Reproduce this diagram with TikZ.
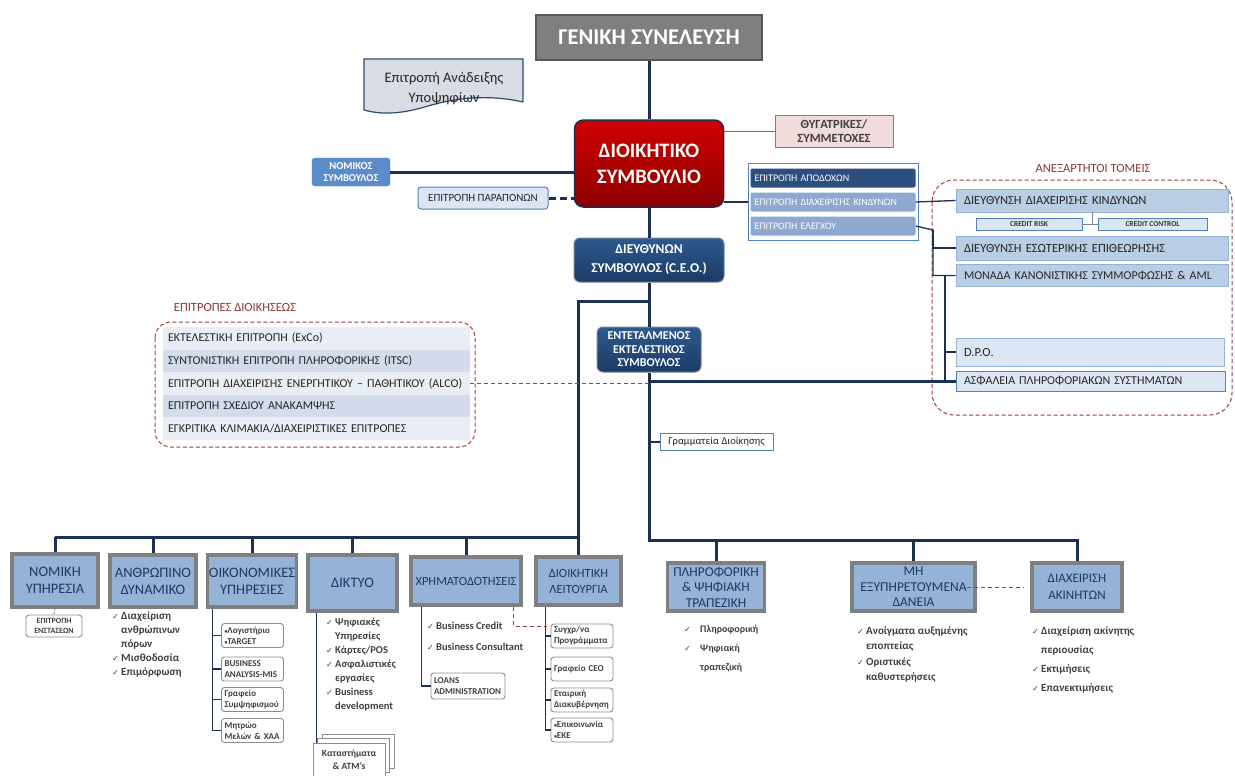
\documentclass[tikz,border=0pt]{standalone}
\usepackage{fontspec}
\setmainfont{Carlito}
\newfontfamily\symfont{DejaVu Sans}
\usetikzlibrary{positioning}

\definecolor{linenavy}{HTML}{1C3152}
\definecolor{gengray}{HTML}{7F7F7F}
\definecolor{genedge}{HTML}{5A5A5A}
\definecolor{docfill}{HTML}{D9DCE3}
\definecolor{docedge}{HTML}{2F4C73}
\definecolor{boardtop}{HTML}{D00000}
\definecolor{boardbot}{HTML}{8C0000}
\definecolor{boardedge}{HTML}{2A2A4A}
\definecolor{pinkfill}{HTML}{F2DCDB}
\definecolor{midblue}{HTML}{5B8BC9}
\definecolor{paleblue}{HTML}{DCE6F2}
\definecolor{steel}{HTML}{4F81BD}
\definecolor{ceotop}{HTML}{2E5A8E}
\definecolor{ceobot}{HTML}{1B3A66}
\definecolor{barnavy}{HTML}{2D4F7E}
\definecolor{barblue}{HTML}{8EA8D0}
\definecolor{indblue}{HTML}{B9CDE5}
\definecolor{indedge}{HTML}{95B3D7}
\definecolor{dashred}{HTML}{A04040}
\definecolor{labelred}{HTML}{8B3A2E}
\definecolor{rowlight}{HTML}{E9EEF6}
\definecolor{rowdark}{HTML}{D2DCEA}
\definecolor{unitblue}{HTML}{95B3D7}
\definecolor{unitedge}{HTML}{7F7F7F}
\definecolor{unittext}{HTML}{1F3864}
\definecolor{listgray}{HTML}{404040}
\definecolor{subedge}{HTML}{8C8C8C}

\newcommand{\chk}{{\symfont\fontsize{8}{8}\selectfont ✓}}
\newcommand{\ck}{\makebox[9pt][l]{\chk}}
\newcommand{\ckw}{\makebox[16pt][l]{\chk}}
\newcommand{\dotmark}{{\fontsize{6}{6}\selectfont •}}

\tikzset{
  navylink/.style={draw=linenavy, line width=3pt},
  twig/.style={draw=linenavy, line width=1.3pt},
  reddash/.style={draw=dashred, line width=1pt, dash pattern=on 4pt off 3pt},
  groupframe/.style={draw=dashred, dash pattern=on 4pt off 2.5pt, line width=1pt, rounded corners=22pt},
  unitbox/.style={draw=unitedge, line width=3.5pt, fill=unitblue, text=unittext, align=center, inner sep=0pt, font=\fontsize{14.5}{17}\selectfont},
  subbox/.style={draw=subedge, fill=white, rounded corners=3pt, line width=0.9pt, align=left, inner xsep=3pt, inner ysep=1pt, text width=56pt, minimum height=24pt, text=listgray, font=\bfseries\fontsize{9}{11}\selectfont},
  indbox/.style={draw=indedge, fill=indblue, line width=0.8pt, inner xsep=8pt, inner ysep=0pt, align=left, text=black!85, font=\fontsize{12.5}{14}\selectfont},
  combar/.style={fill=barblue, rounded corners=2pt, inner xsep=4pt, inner ysep=0pt, text=white, align=left, font=\fontsize{10}{12}\selectfont, minimum height=19pt, text width=157pt},
  comrow/.style={inner xsep=5pt, inner ysep=0pt, align=left, text=black!85, font=\fontsize{12}{13}\selectfont, text width=297pt, minimum height=22.6pt},
  listtext/.style={anchor=north west, inner sep=0pt, align=left, text=listgray, font=\bfseries\fontsize{11}{14}\selectfont},
  headbox/.style={rounded corners=6pt, draw=linenavy!60, line width=1pt, top color=ceotop, bottom color=ceobot, align=center, text=white}
}

\begin{document}
\begin{tikzpicture}[x=1pt,y=-1pt]
\useasboundingbox[fill=white] (0,0) rectangle (1235,776);

% top of the chart
\node[draw=genedge, fill=gengray, line width=1.5pt, minimum width=226pt, minimum height=45pt, text=white, font=\bfseries\fontsize{22.5}{26}\selectfont] (gen) at (649,37.5) {ΓΕΝΙΚΗ ΣΥΝΕΛΕΥΣΗ};
\draw[fill=docfill, draw=docedge, line width=1.2pt] (364,59) -- (523,59) -- (523,102) .. controls (488,94) and (455,98) .. (428,106) .. controls (402,114) and (382,115) .. (364,110) -- cycle;
\node[align=center, font=\fontsize{14.5}{20}\selectfont, text=black!85] (nomin) at (444,89) {Επιτροπή Ανάδειξης\\Υποψηφίων};

\node[top color=boardtop, bottom color=boardbot, draw=boardedge, line width=1.5pt, rounded corners=9pt, minimum width=149pt, minimum height=87pt, align=center, text=white, font=\bfseries\fontsize{20.5}{26}\selectfont] (board) at (649,163.5) {ΔΙΟΙΚΗΤΙΚΟ\\ΣΥΜΒΟΥΛΙΟ};
\node[draw=gengray, fill=pinkfill, line width=0.8pt, minimum width=118pt, minimum height=32pt, align=center, text=black!75, font=\bfseries\fontsize{12.5}{14}\selectfont] (subs) at (834,131) {ΘΥΓΑΤΡΙΚΕΣ/\\ΣΥΜΜΕΤΟΧΕΣ};
\node[fill=midblue, draw=steel, rounded corners=3pt, minimum width=78pt, minimum height=28pt, align=center, text=white, font=\bfseries\fontsize{10.5}{12}\selectfont] (advisor) at (351,172) {ΝΟΜΙΚΟΣ\\ΣΥΜΒΟΥΛΟΣ};
\node[fill=paleblue, draw=steel, line width=1pt, rounded corners=3pt, minimum width=130pt, minimum height=22pt, text=black!85, font=\fontsize{11}{12}\selectfont] (complaints) at (483,198) {ΕΠΙΤΡΟΠΗ ΠΑΡΑΠΟΝΩΝ};

% board committees
\node[draw=steel, fill=white, line width=1pt, minimum width=170pt, minimum height=77pt] (panel) at (833,201.5) {};
\node[combar, fill=barnavy] (remc) at (833,178) {ΕΠΙΤΡΟΠΗ ΑΠΟΔΟΧΩΝ};
\node[combar] (riskc) at (833,202) {ΕΠΙΤΡΟΠΗ ΔΙΑΧΕΙΡΙΣΗΣ ΚΙΝΔΥΝΩΝ};
\node[combar] (auditc) at (833,226) {ΕΠΙΤΡΟΠΗ ΕΛΕΓΧΟΥ};

% independent units
\draw[groupframe] (932,180) rectangle (1232,415);
\node[text=labelred, font=\fontsize{12.5}{14}\selectfont] (indlabel) at (1093,168) {ΑΝΕΞΑΡΤΗΤΟΙ ΤΟΜΕΙΣ};
\node[indbox, text width=256pt, minimum height=23pt] (riskdir) at (1092,200.5) {ΔΙΕΥΘΥΝΣΗ ΔΙΑΧΕΙΡΙΣΗΣ ΚΙΝΔΥΝΩΝ};
\node[draw=steel, fill=paleblue, line width=0.8pt, minimum width=106pt, minimum height=12pt, inner sep=0pt, text=black!80, font=\bfseries\fontsize{7.5}{8}\selectfont] (crisk) at (1029,224) {CREDIT RISK};
\node[draw=steel, fill=paleblue, line width=0.8pt, minimum width=109pt, minimum height=12pt, inner sep=0pt, text=black!80, font=\bfseries\fontsize{7.5}{8}\selectfont] (cctrl) at (1152.5,224) {CREDIT CONTROL};
\node[indbox, text width=256pt, minimum height=24pt] (intaudit) at (1092,248) {ΔΙΕΥΘΥΝΣΗ ΕΣΩΤΕΡΙΚΗΣ ΕΠΙΘΕΩΡΗΣΗΣ};
\node[indbox, text width=256pt, minimum height=22pt, font=\fontsize{12}{13}\selectfont] (compl) at (1092,275.5) {ΜΟΝΑΔΑ ΚΑΝΟΝΙΣΤΙΚΗΣ ΣΥΜΜΟΡΦΩΣΗΣ \& AML};
\node[indbox, fill=paleblue, text width=252pt, minimum height=28pt] (dpo) at (1090,352) {D.P.O.};
\node[indbox, fill=paleblue, draw=steel, text width=253pt, minimum height=20pt, font=\fontsize{12}{13}\selectfont] (infosec) at (1090.5,381) {ΑΣΦΑΛΕΙΑ ΠΛΗΡΟΦΟΡΙΑΚΩΝ ΣΥΣΤΗΜΑΤΩΝ};

% management committees
\node[text=labelred, font=\fontsize{12.5}{14}\selectfont] (mgmtlabel) at (235,307) {ΕΠΙΤΡΟΠΕΣ ΔΙΟΙΚΗΣΕΩΣ};
\draw[groupframe, rounded corners=16pt] (155,322) rectangle (475,447);
\node[comrow, fill=rowlight] (exco) at (316.5,338.3) {ΕΚΤΕΛΕΣΤΙΚΗ ΕΠΙΤΡΟΠΗ (ExCo)};
\node[comrow, fill=rowdark] (itsc) at (316.5,360.9) {ΣΥΝΤΟΝΙΣΤΙΚΗ ΕΠΙΤΡΟΠΗ ΠΛΗΡΟΦΟΡΙΚΗΣ (ITSC)};
\node[comrow, fill=rowlight] (alco) at (316.5,383.5) {ΕΠΙΤΡΟΠΗ ΔΙΑΧΕΙΡΙΣΗΣ ΕΝΕΡΓΗΤΙΚΟΥ – ΠΑΘΗΤΙΚΟΥ (ALCO)};
\node[comrow, fill=rowdark] (recov) at (316.5,406.1) {ΕΠΙΤΡΟΠΗ ΣΧΕΔΙΟΥ ΑΝΑΚΑΜΨΗΣ};
\node[comrow, fill=rowlight] (approv) at (316.5,428.7) {ΕΓΚΡΙΤΙΚΑ ΚΛΙΜΑΚΙΑ/ΔΙΑΧΕΙΡΙΣΤΙΚΕΣ ΕΠΙΤΡΟΠΕΣ};

% executives
\node[headbox, minimum width=150pt, minimum height=44pt, font=\bfseries\fontsize{13.5}{19}\selectfont] (ceo) at (649,260) {ΔΙΕΥΘΥΝΩΝ\\ΣΥΜΒΟΥΛΟΣ (C.E.O.)};
\node[headbox, minimum width=104pt, minimum height=45pt, font=\bfseries\fontsize{12}{13.5}\selectfont] (deputy) at (649,349.5) {ΕΝΤΕΤΑΛΜΕΝΟΣ\\ΕΚΤΕΛΕΣΤΙΚΟΣ\\ΣΥΜΒΟΥΛΟΣ};
\node[draw=steel, fill=white, line width=0.8pt, minimum width=113pt, minimum height=17pt, inner sep=0pt, text=black!85, font=\fontsize{10.5}{12}\selectfont] (secr) at (716.5,442) {Γραμματεία Διοίκησης};

% business units
\node[unitbox, minimum width=86pt, minimum height=53pt] (legal) at (55,580.5) {ΝΟΜΙΚΗ\\ΥΠΗΡΕΣΙΑ};
\node[unitbox, minimum width=86pt, minimum height=52pt] (hr) at (153,581) {ΑΝΘΡΩΠΙΝΟ\\ΔΥΝΑΜΙΚΟ};
\node[unitbox, minimum width=89pt, minimum height=52pt] (fin) at (252,581) {ΟΙΚΟΝΟΜΙΚΕΣ\\ΥΠΗΡΕΣΙΕΣ};
\node[unitbox, minimum width=89pt, minimum height=56pt] (network) at (352.5,583) {ΔΙΚΤΥΟ};
\node[unitbox, minimum width=110pt, minimum height=48pt, font=\fontsize{12.5}{15}\selectfont] (lending) at (466,581) {ΧΡΗΜΑΤΟΔΟΤΗΣΕΙΣ};
\node[unitbox, minimum width=85pt, minimum height=48pt, font=\fontsize{12.5}{16}\selectfont] (admin) at (578.5,581) {ΔΙΟΙΚΗΤΙΚΗ\\ΛΕΙΤΟΥΡΓΙΑ};
\node[unitbox, minimum width=97pt, minimum height=48pt, font=\fontsize{13.5}{15.5}\selectfont] (digital) at (716,587) {ΠΛΗΡΟΦΟΡΙΚΗ\\\& ΨΗΦΙΑΚΗ\\ΤΡΑΠΕΖΙΚΗ};
\node[unitbox, minimum width=123pt, minimum height=48pt, font=\fontsize{13.5}{15.5}\selectfont] (npl) at (913.5,587) {ΜΗ\\ΕΞΥΠΗΡΕΤΟΥΜΕΝΑ\\ΔΑΝΕΙΑ};
\node[unitbox, minimum width=90pt, minimum height=48pt, font=\fontsize{13}{17}\selectfont] (estate) at (1077,587) {ΔΙΑΧΕΙΡΙΣΗ\\ΑΚΙΝΗΤΩΝ};

% details under the units
\node[subbox, text width=50pt, minimum height=22pt, align=center, font=\bfseries\fontsize{8}{10}\selectfont] (appeals) at (54,626) {ΕΠΙΤΡΟΠΗ\\ΕΝΣΤΑΣΕΩΝ};
\node[listtext] (hrlist) at (112,611) {\ck Διαχείριση\\\hspace*{9pt}ανθρώπινων\\\hspace*{9pt}πόρων\\\ck Μισθοδοσία\\\ck Επιμόρφωση};
\node[subbox] (acct) at (252.5,635.5) {\dotmark Λογιστήριο\\\dotmark TARGET};
\node[subbox] (bamis) at (252.5,669) {BUSINESS\\ANALYSIS-MIS};
\node[subbox] (clearing) at (252.5,699.5) {Γραφείο\\Συμψηφισμού};
\node[subbox] (registry) at (252.5,730.5) {Μητρώο\\Μελών \& ΧΑΑ};
\node[listtext, font=\bfseries\fontsize{10.5}{14}\selectfont] (netlist) at (326,618) {\ck Ψηφιακές\\\hspace*{9pt}Υπηρεσίες\\\ck Κάρτες/POS\\\ck Ασφαλιστικές\\\hspace*{9pt}εργασίες\\\ck Business\\\hspace*{9pt}development};
\foreach \d in {9,4.5} \draw[fill=white, draw=subedge, line width=0.9pt] (313+\d,743-\d) rectangle ++(72,34);
\node[draw=subedge, fill=white, line width=0.9pt, minimum width=72pt, minimum height=34pt, align=center, text=listgray, font=\bfseries\fontsize{9.5}{13}\selectfont] (shops) at (349,760) {Καταστήματα\\\& ATM's};
\node[listtext, font=\bfseries\fontsize{10.5}{20.5}\selectfont] (lendlist) at (427,622) {\ck Business Credit\\\ck Business Consultant};
\node[subbox, text width=68pt, minimum height=26pt] (loanadm) at (468,686) {LOANS\\ADMINISTRATION};
\node[subbox] (progs) at (582,636) {Συγχρ/να\\Προγράμματα};
\node[subbox] (ceooff) at (582,669) {Γραφείο CEO};
\node[subbox] (govern) at (582,700) {Εταιρική\\Διακυβέρνηση};
\node[subbox] (comms) at (582,730) {\dotmark Επικοινωνία\\\dotmark ΕΚΕ};
\node[listtext, font=\bfseries\fontsize{10}{19}\selectfont] (digilist) at (684,625) {\ckw Πληροφορική\\\ckw Ψηφιακή\\\hspace*{16pt}τραπεζική};
\node[listtext, font=\bfseries\fontsize{11}{15.5}\selectfont] (npllist) at (857,626) {\ck Ανοίγματα αυξημένης\\\hspace*{9pt}εποπτείας\\\ck Οριστικές\\\hspace*{9pt}καθυστερήσεις};
\node[listtext, font=\bfseries\fontsize{11}{19}\selectfont] (estlist) at (1032,626) {\ck Διαχείριση ακίνητης\\\hspace*{9pt}περιουσίας\\\ck Εκτιμήσεις\\\ck Επανεκτιμήσεις};

% connectors
\coordinate (lturn) at (649,301);
\coordinate (lbus) at (578.5,537);
\coordinate (rbus) at (649,540);
\coordinate (auditturn) at (933,230);
\coordinate (secturn) at (945,275.5);
\coordinate (dashjoin) at (547,626);

\draw[navylink] (gen.south) -- (board.north);
\draw[draw=linenavy!70, line width=1pt] (subs.west) -- (subs.west -| board.east);
\draw[navylink] (advisor.east) -- (advisor.east -| board.west);
\draw[navylink, dash pattern=on 7pt off 4pt] (complaints.east) -- (complaints.east -| board.west);
\draw[navylink] (board.south) -- (ceo.north);
\draw[twig, line width=2pt] (riskc.west -| board.east) -- (riskc.west -| panel.west);
\draw[twig] (riskc.east) -- (riskdir.west);
\draw[twig] (auditc.east) -- (auditturn) |- (compl.west);
\draw[twig] (auditturn) |- (intaudit.west);
\draw[twig] (secturn) |- (infosec.west);
\draw[twig] (secturn |- dpo.west) -- (dpo.west);
\draw[draw=linenavy!60, line width=0.8pt] (riskdir.south) -- (riskdir.south |- crisk.east);
\draw[draw=linenavy!60, line width=0.8pt] (crisk.east) -- (cctrl.west);

\draw[navylink] (ceo.south) -- (deputy.north);
\draw[navylink] (lturn) -| (admin.north);
\draw[navylink] (legal.north |- lbus) -- (lbus);
\foreach \u in {legal,hr,fin,network,lending}
  \draw[navylink] (\u.north) -- (\u.north |- lbus);
\draw[navylink] (deputy.south) -- (rbus) -| (estate.north);
\foreach \u in {digital,npl}
  \draw[navylink] (\u.north) -- (\u.north |- rbus);
\draw[navylink] (infosec.west -| deputy.south) -- (infosec.west);
\draw[navylink, line width=2pt] (secr.west) -- (secr.west -| deputy.south);
\draw[reddash] (alco.east) -- (alco.east -| deputy.south);

\draw[draw=gengray, line width=0.8pt, dash pattern=on 2pt off 1.5pt] (legal.south) -- (appeals.north);
\draw[twig] (fin.south west) ++(6.5,0) coordinate (fintrunk) |- (registry.west);
\foreach \b in {acct,bamis,clearing}
  \draw[twig] (\b.west) -- (\b.west -| fintrunk);
\draw[twig] (network.south west) ++(10,0) coordinate (nettrunk) -- (nettrunk |- shops.north);
\draw[twig] (lending.south west) ++(12,0) coordinate (lendtrunk) |- (loanadm.west);
\draw[twig] (admin.south west) ++(11,0) coordinate (admtrunk) |- (comms.west);
\foreach \b in {progs,ceooff,govern}
  \draw[twig] (\b.west) -- (\b.west -| admtrunk);
\draw[reddash] (lending.south east) ++(-9,0) |- (dashjoin);
\draw[reddash] (npl.east) ++(-10,0) -- ([xshift=-7pt]estate.west);
\end{tikzpicture}
\end{document}
